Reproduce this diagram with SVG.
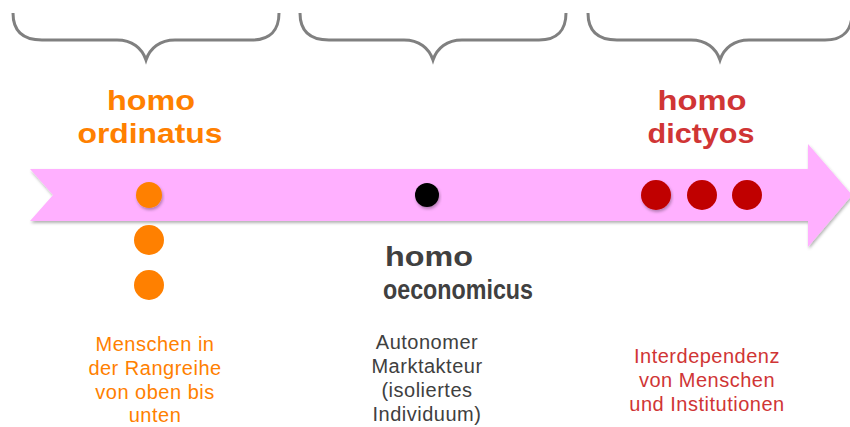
<svg xmlns="http://www.w3.org/2000/svg" width="850" height="427" viewBox="0 0 850 427">
<style>
.brace{fill:none;stroke:#808080;stroke-width:3;stroke-linecap:butt}
.t{font-family:"Liberation Sans",Arial,sans-serif;text-anchor:middle}
.h{font-weight:bold;font-size:28px}
.b{font-size:20px;letter-spacing:0.5px}
.or{fill:#FF8000}
.rd{fill:#D03535}
.gy{fill:#404040}
</style>
<defs>
<filter id="sh" x="-10%" y="-20%" width="120%" height="150%">
<feDropShadow dx="1" dy="2" stdDeviation="1.5" flood-color="#000" flood-opacity="0.3"/>
</filter>
</defs>
<g id="braces">
<path class="brace" d="M13,13 C13,30 22,40 42,40 L117,40 C132,40 142,48 146,60 C150,48 160,40 175,40 L252,40 C270,40 279,30 279,13"/>
<path class="brace" d="M300,13 C300,30 309,40 329,40 L404,40 C419,40 429,48 433,60 C437,48 447,40 462,40 L539,40 C557,40 566,30 566,13"/>
<path class="brace" d="M588,13 C588,30 597,40 617,40 L691,40 C706,40 716,48 720,60 C724,48 734,40 749,40 L825,40 C843,40 852,30 852,13"/>
</g>
<g id="arrow">
<path d="M30,169 L808,169 L808,144 L852,195 L808,247 L808,221 L30,221 L53,195 Z" fill="#FFB0FF" filter="url(#sh)"/>
</g>
<g id="homo-ordinatus">
<circle cx="149" cy="195" r="13" class="or" filter="url(#sh)"/>
<circle cx="149" cy="240" r="15" class="or"/>
<circle cx="149" cy="285" r="15" class="or"/>
<text class="t h or" x="151" y="110" textLength="88" lengthAdjust="spacingAndGlyphs">homo</text>
<text class="t h or" x="150" y="143" textLength="145" lengthAdjust="spacingAndGlyphs">ordinatus</text>
<text class="t b or"><tspan x="155" y="351">Menschen in</tspan><tspan x="155" y="375">der Rangreihe</tspan><tspan x="155" y="399">von oben bis</tspan><tspan x="155" y="422">unten</tspan></text>
</g>
<g id="homo-oeconomicus">
<circle cx="427" cy="195" r="12" fill="#000" filter="url(#sh)"/>
<text class="t h gy" x="429" y="266" textLength="88" lengthAdjust="spacingAndGlyphs">homo</text>
<text class="t h gy" x="458" y="299" textLength="150" lengthAdjust="spacingAndGlyphs">oeconomicus</text>
<text class="t b gy"><tspan x="427" y="349">Autonomer</tspan><tspan x="427" y="373">Marktakteur</tspan><tspan x="427" y="397">(isoliertes</tspan><tspan x="427" y="421">Individuum)</tspan></text>
</g>
<g id="homo-dictyos">
<circle cx="656" cy="195" r="15" fill="#C00000" filter="url(#sh)"/>
<circle cx="702" cy="195" r="15" fill="#C00000"/>
<circle cx="747" cy="195" r="15" fill="#C00000"/>
<text class="t h rd" x="702" y="110" textLength="89" lengthAdjust="spacingAndGlyphs">homo</text>
<text class="t h rd" x="701" y="143" textLength="107" lengthAdjust="spacingAndGlyphs">dictyos</text>
<text class="t b rd"><tspan x="707" y="363">Interdependenz</tspan><tspan x="707" y="387">von Menschen</tspan><tspan x="707" y="411">und Institutionen</tspan></text>
</g>
</svg>
